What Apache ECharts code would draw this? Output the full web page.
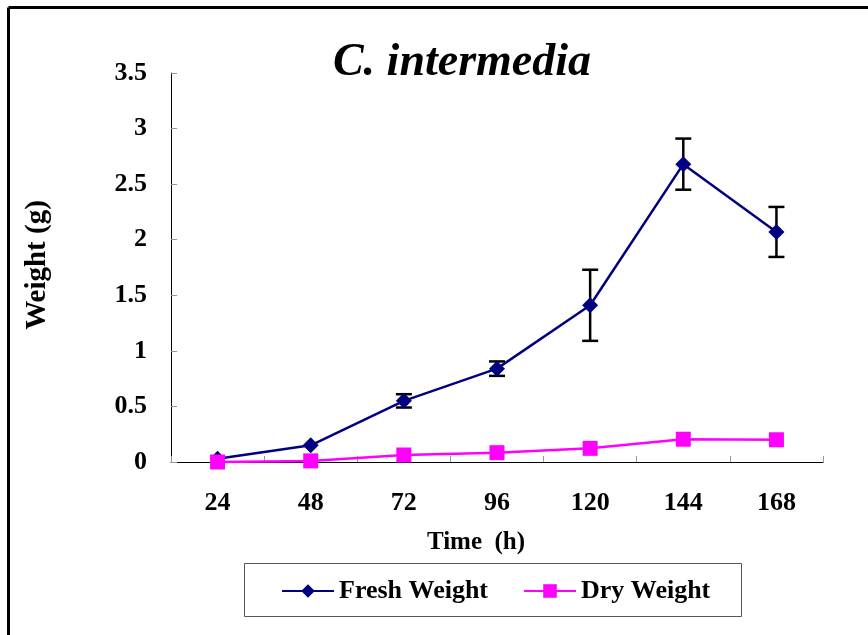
<!DOCTYPE html>
<html>
<head>
<meta charset="utf-8">
<script src="https://cdn.jsdelivr.net/npm/echarts@6/dist/echarts.min.js"></script>
<style>
  html, body { margin: 0; padding: 0; background: #fff; }
  #chart { width: 868px; height: 635px; }
</style>
</head>
<body>
<div id="chart"></div>
<script>
// Sampling times (hours)
const times = ['24', '48', '72', '96', '120', '144', '168'];
// Mean fresh weight (g) and its error margin
const freshWeight = [0.03, 0.15, 0.55, 0.84, 1.41, 2.68, 2.07];
const freshError  = [0.00, 0.00, 0.06, 0.065, 0.32, 0.23, 0.225];
// Mean dry weight (g)
const dryWeight = [0.00, 0.01, 0.063, 0.084, 0.123, 0.205, 0.20];
// Value axis ticks
const yTicks = [0, 0.5, 1, 1.5, 2, 2.5, 3, 3.5];

const FONT = '"Liberation Serif", "Times New Roman", serif';

const errorData = times.map((t, i) => [i, freshWeight[i] - freshError[i], freshWeight[i] + freshError[i], freshError[i]]);

const chart = echarts.init(document.getElementById('chart'));

chart.setOption({
  animation: false,
  backgroundColor: '#fff',
  title: {
    text: 'C. intermedia',
    left: 457,
    textAlign: 'center',
    top: 35,
    textStyle: { fontFamily: FONT, fontSize: 46, fontWeight: 'bold', fontStyle: 'italic', color: '#000' }
  },
  grid: { left: 171, right: 45, top: 73, bottom: 173, containLabel: false },
  legend: {
    left: 281,
    top: 578,
    itemWidth: 52,
    itemHeight: 17,
    itemGap: 35,
    padding: 0,
    textStyle: { fontFamily: FONT, fontSize: 26, fontWeight: 'bold', color: '#000', padding: [0, 0, 0, 0] },
    data: ['Fresh Weight', 'Dry Weight']
  },
  xAxis: {
    type: 'category',
    data: times,
    boundaryGap: true,
    axisLine: { lineStyle: { color: '#000', width: 1 } },
    axisTick: { show: true, inside: true, length: 6, interval: 0, lineStyle: { color: '#999' } },
    axisLabel: { fontFamily: FONT, fontSize: 26, fontWeight: 'bold', color: '#000', margin: 28 },
    splitLine: { show: false }
  },
  yAxis: {
    type: 'value',
    min: yTicks[0],
    max: yTicks[yTicks.length - 1],
    interval: yTicks[1] - yTicks[0],
    axisLine: { show: true, lineStyle: { color: '#000', width: 1 } },
    axisTick: { show: true, inside: true, length: 6, lineStyle: { color: '#999' } },
    axisLabel: { fontFamily: FONT, fontSize: 26, fontWeight: 'bold', color: '#000', margin: 24 },
    splitLine: { show: false }
  },
  graphic: [
    // outer frame (left and top edges visible)
    { type: 'line', shape: { x1: 8.5, y1: 7.5, x2: 868, y2: 7.5 }, style: { stroke: '#000', lineWidth: 3 } },
    { type: 'line', shape: { x1: 8.5, y1: 7.5, x2: 8.5, y2: 635 }, style: { stroke: '#000', lineWidth: 3 } },
    // legend box
    { type: 'rect', shape: { x: 244.5, y: 563.5, width: 497, height: 53 }, style: { fill: 'none', stroke: '#555', lineWidth: 1 }, z: 0 },
    // axis names
    { type: 'text', x: 476, y: 543, style: { text: 'Time  (h)', font: 'bold 25px ' + FONT, fill: '#000', textAlign: 'center', textVerticalAlign: 'middle' } },
    { type: 'text', x: 38, y: 265, rotation: Math.PI / 2, style: { text: 'Weight (g)', font: 'bold 29px ' + FONT, fill: '#000', textAlign: 'center', textVerticalAlign: 'middle' } }
  ],
  series: [
    {
      name: 'Fresh Weight',
      type: 'line',
      data: freshWeight,
      symbol: 'diamond',
      symbolSize: 16,
      color: '#000080',
      lineStyle: { color: '#000080', width: 2.5 },
      itemStyle: { color: '#000080' },
      z: 3
    },
    {
      name: 'Dry Weight',
      type: 'line',
      data: dryWeight,
      symbol: 'rect',
      symbolSize: 15,
      color: '#ff00ff',
      lineStyle: { color: '#ff00ff', width: 2.5 },
      itemStyle: { color: '#ff00ff' },
      z: 4
    },
    {
      name: 'error',
      type: 'custom',
      data: errorData,
      z: 2,
      renderItem: function (params, api) {
        if (api.value(3) <= 0) return null;
        const x = api.value(0);
        const lo = api.coord([x, api.value(1)]);
        const hi = api.coord([x, api.value(2)]);
        const half = 8;
        const st = { stroke: '#000', lineWidth: 2.5 };
        return {
          type: 'group',
          children: [
            { type: 'line', shape: { x1: lo[0], y1: lo[1], x2: hi[0], y2: hi[1] }, style: st },
            { type: 'line', shape: { x1: hi[0] - half, y1: hi[1], x2: hi[0] + half, y2: hi[1] }, style: st },
            { type: 'line', shape: { x1: lo[0] - half, y1: lo[1], x2: lo[0] + half, y2: lo[1] }, style: st }
          ]
        };
      }
    }
  ]
});
</script>
</body>
</html>
